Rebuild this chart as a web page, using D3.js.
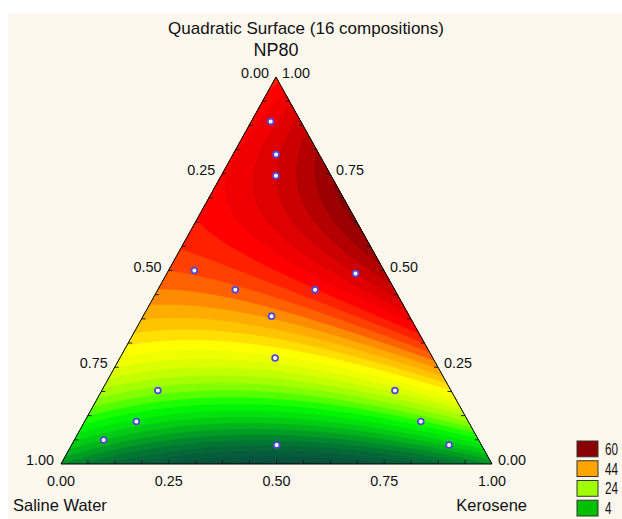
<!DOCTYPE html>
<meta charset="utf-8">
<style type="text/css">
body {
  margin: 0;
  background: #ffffff;
  font-family: 'Liberation Sans', Arial, sans-serif;
}
.panel { fill: #fdf8ee; }
.edge { fill: none; stroke: #000000; stroke-width: 1; stroke-linejoin: miter; }
.tick { stroke: #222222; stroke-width: 1; }
.tick-label { font-size: 15.5px; fill: #111111; }
.name { font-size: 16.5px; fill: #111111; }
.design { fill: #ffffff; stroke: #5248d4; stroke-width: 1.8; }
.key rect { stroke: #333333; stroke-width: 1; }
.key text { font-size: 16px; fill: #111111; }
</style>
<head>
  <script src="https://cdnjs.cloudflare.com/ajax/libs/d3/7.8.5/d3.min.js"></script>
</head>
<body>
<div class="g-chart"></div>

<script type="text/javascript">

// chart texts
var chartTitle = "Quadratic Surface (16 compositions)";
var topName = "NP80", leftName = "Saline Water", rightName = "Kerosene";

// the 16 design compositions (fractions of NP80 / Saline Water / Kerosene)
var npValues = [0.885, 0.80, 0.745, 0.50, 0.492, 0.45, 0.45, 0.382, 0.274, 0.19, 0.19, 0.11, 0.11, 0.062, 0.049, 0.049];
var swValues = [0.07, 0.10, 0.128, 0.44, 0.07, 0.37, 0.185, 0.32, 0.366, 0.68, 0.13, 0.77, 0.11, 0.87, 0.475, 0.075];
var keValues = [0.045, 0.10, 0.127, 0.06, 0.438, 0.18, 0.365, 0.298, 0.36, 0.13, 0.68, 0.12, 0.78, 0.068, 0.476, 0.876];

// quadratic (Scheffe) surface: NP, SW, KE, NP*SW, NP*KE, SW*KE
var surfaceCoefs = [49, 10, 10, 66, 120, -44];

// contour levels and their colours
var levelStops  = [0, 4, 8, 12, 16, 20, 24, 28, 32, 35, 38, 42, 45, 48, 51, 54, 57, 60, 63];
var levelColors = ["#0a4e3c", "#06613a", "#007a30", "#00a820", "#00d810", "#00ff00", "#70ff00", "#b8ff00",
                   "#e8ff00", "#ffff00", "#ffd000", "#ffa000", "#ff6000", "#ff3000", "#ff0000", "#e80000",
                   "#cc0000", "#a80000", "#880000"];
var levelStep = 2;

// axis ticks
var tickValues = [0, 0.25, 0.5, 0.75, 1];
var minorTicks = d3.range(1, 16).map(function(i) { return i / 16; });

// legend
var legendValues = [60, 44, 24, 4];
var legendColors = ["#8b0000", "#ffa500", "#a0ff00", "#00c000"];

var width = 622, height = 519;

var svg = d3.select(".g-chart").append("svg")
  .attr("width", width)
  .attr("height", height);

svg.append("rect").attr("class", "panel")
  .attr("x", 8).attr("y", 13).attr("width", width - 8).attr("height", height - 13);

// bottom edge -> kerosene share, height -> NP80 share
var xScale = d3.scaleLinear().domain([0, 1]).range([61, 492]);
var yScale = d3.scaleLinear().domain([0, 1]).range([464, 77]);
var apexShift = xScale.invert(276);

function project(np, ke) {
  return [xScale(ke + np * apexShift), yScale(np)];
}

function surface(np, sw, ke) {
  var c = surfaceCoefs;
  return c[0]*np + c[1]*sw + c[2]*ke + c[3]*np*sw + c[4]*np*ke + c[5]*sw*ke;
}

var corners = [project(1, 0), project(0, 0), project(0, 1)];

svg.append("clipPath").attr("id", "tri")
  .append("polygon").attr("points", corners.map(function(p) { return p.join(","); }).join(" "));

// sample the surface on a pixel grid over the triangle's box
var x0 = xScale(0), y0 = yScale(1);
var nx = Math.round(xScale(1) - x0), ny = Math.round(yScale(0) - y0);
var values = new Array(nx * ny);
for (var j = 0; j < ny; j++) {
  for (var i = 0; i < nx; i++) {
    var np = yScale.invert(y0 + j + 0.5);
    var ke = xScale.invert(x0 + i + 0.5) - np * apexShift;
    values[j * nx + i] = surface(np, 1 - np - ke, ke);
  }
}

var levels = d3.range(-4, 68, levelStep);
var color = d3.scaleLinear().domain(levelStops).range(levelColors).clamp(true);

var contours = d3.contours().size([nx, ny]).thresholds(levels)(values);
var geo = d3.geoPath(d3.geoIdentity().translate([x0, y0]));

svg.append("g")
  .attr("clip-path", "url(#tri)")
  .selectAll("path")
  .data(contours)
  .enter().append("path")
  .attr("d", geo)
  .attr("fill", function(d) { return color(d.value + levelStep / 2); })
  .attr("stroke", function(d) { return color(d.value + levelStep / 2); })
  .attr("stroke-width", 0.5);

// minor ticks on the three edges
var ticks = svg.append("g");
minorTicks.forEach(function(t) {
  var b = project(0, t);
  ticks.append("line").attr("class", "tick")
    .attr("x1", b[0]).attr("y1", b[1]).attr("x2", b[0]).attr("y2", b[1] - 4);
  var l = project(t, 0);
  ticks.append("line").attr("class", "tick")
    .attr("x1", l[0]).attr("y1", l[1]).attr("x2", l[0] + 4).attr("y2", l[1]);
  var r = project(t, 1 - t);
  ticks.append("line").attr("class", "tick")
    .attr("x1", r[0]).attr("y1", r[1]).attr("x2", r[0] - 4).attr("y2", r[1]);
});

svg.append("polygon").attr("class", "edge")
  .attr("points", corners.map(function(p) { return p.join(","); }).join(" "));

// tick labels
var labels = svg.append("g");
tickValues.forEach(function(t) {
  // left edge: saline water share (1 at bottom)
  var l = project(t, 0);
  labels.append("text").attr("class", "tick-label")
    .attr("x", l[0] - 7).attr("y", l[1] + 1)
    .attr("text-anchor", "end")
    .attr("textLength", 28).attr("lengthAdjust", "spacingAndGlyphs")
    .text(d3.format(".2f")(1 - t));
  // right edge: NP80 share
  var r = project(t, 1 - t);
  labels.append("text").attr("class", "tick-label")
    .attr("x", r[0] + 6).attr("y", r[1] + 1)
    .attr("textLength", 28).attr("lengthAdjust", "spacingAndGlyphs")
    .text(d3.format(".2f")(t));
  // bottom edge: kerosene share
  var b = project(0, t);
  labels.append("text").attr("class", "tick-label")
    .attr("x", b[0]).attr("y", b[1] + 22)
    .attr("text-anchor", "middle")
    .attr("textLength", 28).attr("lengthAdjust", "spacingAndGlyphs")
    .text(d3.format(".2f")(t));
});

// names
svg.append("text").attr("class", "name").attr("x", 306).attr("y", 34)
  .attr("text-anchor", "middle").style("font-size", "17px").text(chartTitle);
svg.append("text").attr("class", "name").attr("x", 276).attr("y", 56)
  .attr("text-anchor", "middle").style("font-size", "18px").text(topName);
svg.append("text").attr("class", "name").attr("x", 13).attr("y", 511).text(leftName);
svg.append("text").attr("class", "name").attr("x", 527).attr("y", 511)
  .attr("text-anchor", "end").text(rightName);

// design points
svg.append("g").selectAll("circle")
  .data(npValues)
  .enter().append("circle")
  .attr("class", "design")
  .attr("cx", function(d, i) { return project(d, keValues[i])[0]; })
  .attr("cy", function(d, i) { return project(d, keValues[i])[1]; })
  .attr("r", 2.9);

// legend
var key = svg.append("g").attr("class", "key");
var keyY = d3.scaleBand().domain(legendValues).range([441, 516]).paddingInner(0.2);
key.selectAll("rect")
  .data(legendValues)
  .enter().append("rect")
  .attr("x", 577).attr("y", function(d) { return keyY(d); })
  .attr("width", 21).attr("height", keyY.bandwidth())
  .attr("fill", function(d, i) { return legendColors[i]; });
key.selectAll("text")
  .data(legendValues)
  .enter().append("text")
  .attr("x", 605).attr("y", function(d) { return keyY(d) + keyY.bandwidth() / 2 + 6; })
  .attr("textLength", function(d) { return String(d).length * 6.5; })
  .attr("lengthAdjust", "spacingAndGlyphs")
  .text(function(d) { return d; });

</script>
</body>
